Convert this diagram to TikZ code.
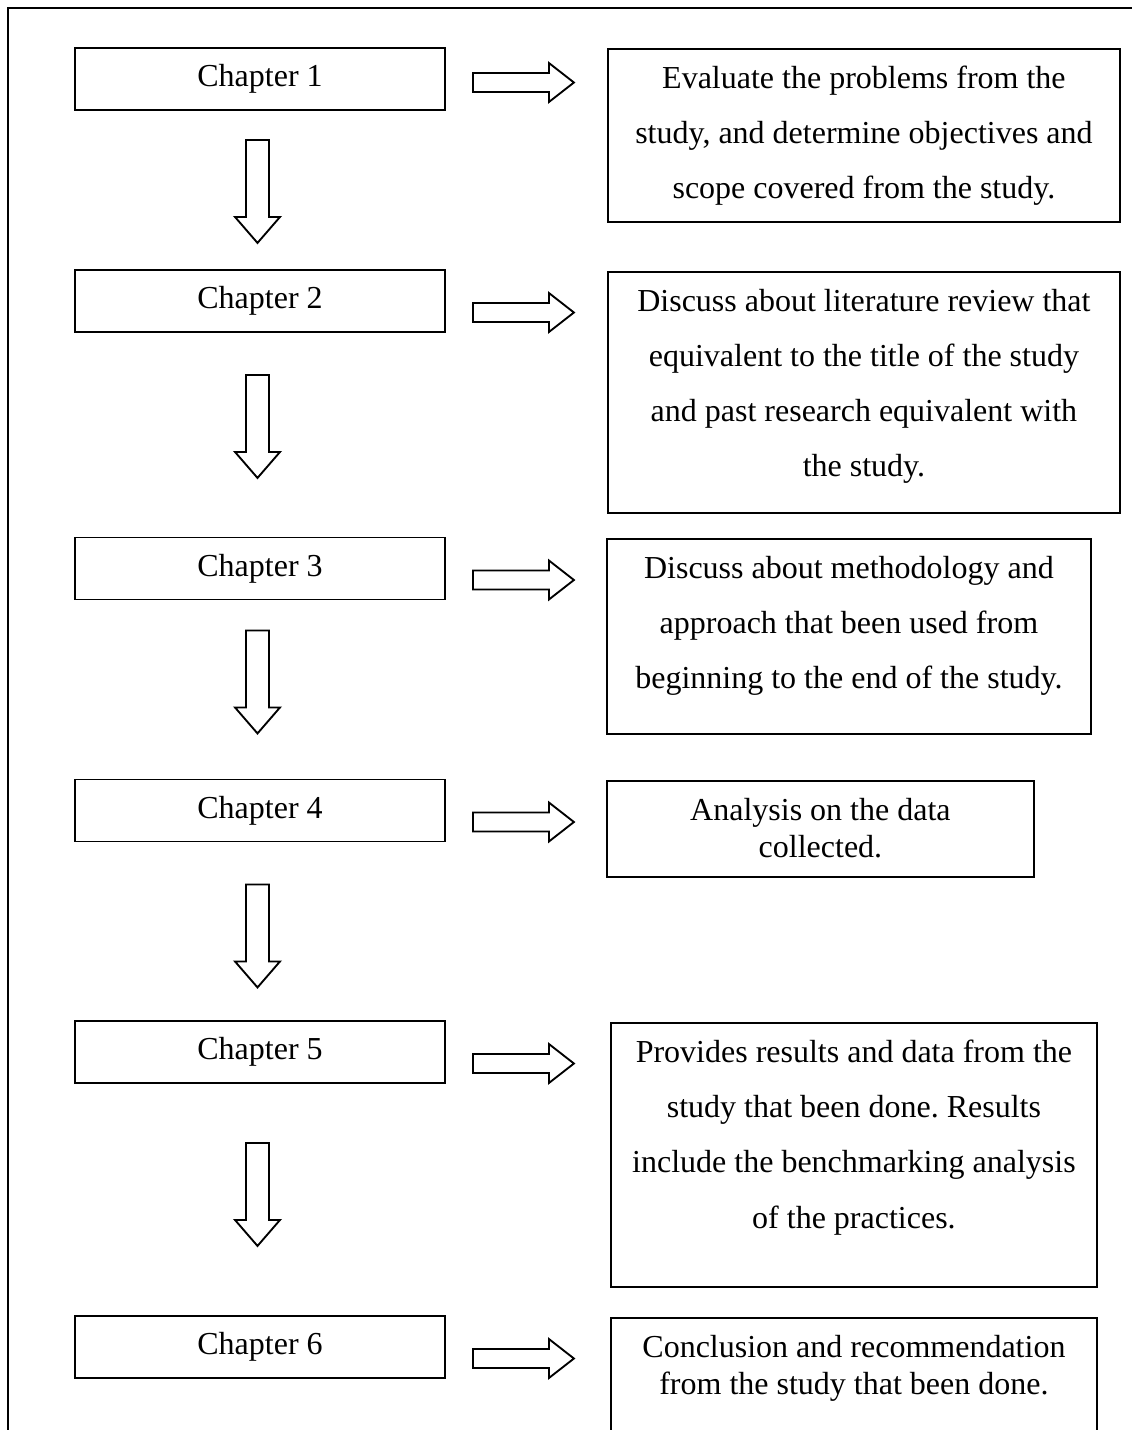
\documentclass[tikz,border=0pt]{standalone}
\usepackage{fontspec}
\setmainfont{Liberation Serif}
\frenchspacing
\usetikzlibrary{calc}
\tikzset{
  cbox/.style={draw, line width=0.7pt, minimum width=138.75pt, minimum height=23.25pt, inner sep=0pt,
    font=\fontsize{12pt}{14.2pt}\selectfont},
  rbox/.style={draw, line width=0.7pt, inner sep=0pt, anchor=north west},
  dtext/.style={align=center, inner sep=0pt, anchor=north, font=\fontsize{12pt}{20.7pt}\selectfont},
  stext/.style={align=center, inner sep=0pt, anchor=north, font=\fontsize{12pt}{14.2pt}\selectfont},
  frame/.style={line width=0.7pt},
  rarrow/.pic={\draw[line width=0.7pt, line join=miter] (0,-9.5)--(76,-9.5)--(76,-19.5)--(101,0)--(76,19.5)--(76,9.5)--(0,9.5)--cycle;},
  darrow/.pic={\draw[line width=0.7pt, line join=miter] (-11.5,0)--(11.5,0)--(11.5,77)--(22.5,77)--(0,103)--(-22.5,77)--(-11.5,77)--cycle;}
}
\begin{document}
\begin{tikzpicture}[x=0.375pt, y=-0.375pt]
\useasboundingbox (0,0) rectangle (1132,1430);
% outer frame (open at right and bottom)
\coordinate (fbl) at (8,1460);
\coordinate (ftl) at (8,8);
\coordinate (ftr) at (1160,8);
\draw[frame] (fbl) -- (ftl) -- (ftr);

% chapter boxes
\node[cbox] (c1) at (260,79) {Chapter 1};
\node[cbox] (c2) at (260,301) {Chapter 2};
\node[cbox] (c3) at (260,568.5) {Chapter 3};
\node[cbox] (c4) at (260,810.5) {Chapter 4};
\node[cbox] (c5) at (260,1052) {Chapter 5};
\node[cbox] (c6) at (260,1347) {Chapter 6};

% right boxes
\node[rbox, minimum width=192pt, minimum height=64.875pt] (r1) at (607,48) {};
\node[rbox, minimum width=192pt, minimum height=90.375pt] (r2) at (607,271) {};
\node[rbox, minimum width=181.5pt, minimum height=73.125pt] (r3) at (606,538) {};
\node[rbox, minimum width=160.125pt, minimum height=36pt] (r4) at (606,780) {};
\node[rbox, minimum width=182.25pt, minimum height=99pt] (r5) at (610,1022) {};
\node[rbox, minimum width=182.25pt, minimum height=60pt] (r6) at (610,1317) {};

% texts
\node[dtext] (t1) at ([yshift=-6.5pt]r1.north) {Evaluate the problems from the\\study, and determine objectives and\\scope covered from the study.};
\node[dtext] (t2) at ([yshift=-6.5pt]r2.north) {Discuss about literature review that\\equivalent to the title of the study\\and past research equivalent with\\the study.};
\node[dtext] (t3) at ([yshift=-6.5pt]r3.north) {Discuss about methodology and\\approach that been used from\\beginning to the end of the study.};
\node[stext] (t4) at ([yshift=-6.5pt]r4.north) {Analysis on the data\\collected.};
\node[dtext] (t5) at ([yshift=-6.5pt]r5.north) {Provides results and data from the\\study that been done. Results\\include the benchmarking analysis\\of the practices.};
\node[stext] (t6) at ([yshift=-6.5pt]r6.north) {Conclusion and recommendation\\from the study that been done.};

% right block arrows
\pic at ($(c1.east)+(27,3.5)$) {rarrow};
\pic at ($(c2.east)+(27,11.5)$) {rarrow};
\pic at ($(c3.east)+(27,11.5)$) {rarrow};
\pic at ($(c4.east)+(27,11.5)$) {rarrow};
\pic at ($(c5.east)+(27,11.5)$) {rarrow};
\pic at ($(c6.east)+(27,11.5)$) {rarrow};

% down block arrows
\pic at ($(c1.south)+(-2.5,29)$) {darrow};
\pic at ($(c2.south)+(-2.5,42)$) {darrow};
\pic at ($(c3.south)+(-2.5,30)$) {darrow};
\pic at ($(c4.south)+(-2.5,42)$) {darrow};
\pic at ($(c5.south)+(-2.5,59)$) {darrow};
\end{tikzpicture}
\end{document}
